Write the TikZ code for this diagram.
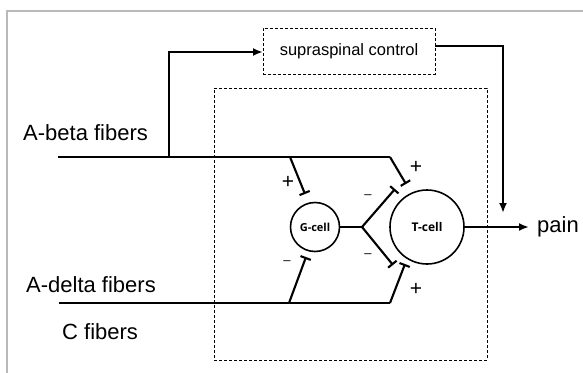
\documentclass[tikz,border=0pt]{standalone}
\usepackage{fontspec}
\setmainfont{Liberation Sans}
\newfontfamily\cellfont{Open Sans}
\usetikzlibrary{arrows.meta}

\tikzset{
  x=1pt, y=-1pt,
  fiber/.style={line width=2.1pt},
  inhib/.style={fiber, -{Bar[width=11pt,line width=2.1pt]}},
  excite/.style={fiber, -{Latex[length=10pt,width=8pt]}},
  cell/.style={circle, draw, line width=1.6pt, inner sep=0pt, font=\cellfont},
  zone/.style={draw, dashed, dash pattern=on 3pt off 2pt, line width=1pt, inner sep=0pt},
  lbl/.style={anchor=west, inner sep=0pt, font=\fontsize{22}{24}\selectfont},
  sign/.style={inner sep=0pt, font=\fontsize{21}{23}\selectfont},
  minus/.style={inner sep=0pt, font=\fontsize{13}{15}\selectfont},
}

\begin{document}
\begin{tikzpicture}
\useasboundingbox (0,0) rectangle (583,372);
\clip (0,0) rectangle (583,372);
\fill[white] (0,0) rectangle (583,372);
% outer gray frame
\draw[gray!55, line width=1.5pt] (7,400) -- (7,11) -- (600,11);

% spinal cord region and supraspinal control
\node[zone, minimum width=273pt, minimum height=272pt] (spinal) at (350.5,224) {};
\node[zone, minimum width=172pt, minimum height=46pt,
      font=\fontsize{16.5}{18}\selectfont] (supra) at (349,51) {supraspinal control};

% cells
\node[cell, minimum size=49pt, font=\cellfont\bfseries\fontsize{11}{13}\selectfont] (gcell) at (315,227) {G-cell};
\node[cell, minimum size=74pt, font=\cellfont\bfseries\fontsize{12}{14}\selectfont] (tcell) at (427,227) {T-cell};

% labels
\node[lbl] (abeta) at (23,133) {A-beta fibers};
\node[lbl] (adelta) at (26,285) {A-delta fibers};
\node[lbl] (cfib) at (62,332) {C fibers};
\node[lbl] (pain) at (537,227) {pain};

% junction points
\coordinate (abin) at (58,157);
\coordinate (abk) at (169,157);
\coordinate (abg) at (290,157);
\coordinate (abt) at (390,157);
\coordinate (abgend) at (305,194);
\coordinate (abtend) at (406,184);
\coordinate (adin) at (59,303);
\coordinate (adg) at (289,303);
\coordinate (adt) at (390,303);
\coordinate (adgend) at (306,257);
\coordinate (adtend) at (405,264);
\coordinate (fork) at (362,227);
\coordinate (forkup) at (395,189);
\coordinate (forkdn) at (393,265);
\coordinate (supout) at (435,46);
\coordinate (supcorner) at (503,46);
\coordinate (supend) at (503,213);
\coordinate (supin) at (263,52);
\coordinate (painend) at (529,227);

% A-beta fibers
\draw[fiber] (abin) -- (abt);
\draw[inhib] (abt) -- (abtend);
\draw[inhib] (abg) -- (abgend);
\draw[excite] (abk) |- (supin);

% A-delta / C fibers
\draw[fiber] (adin) -- (adt);
\draw[inhib] (adt) -- (adtend);
\draw[inhib] (adg) -- (adgend);

% G-cell output
\draw[fiber] (gcell.east) -- (fork);
\draw[inhib] (fork) -- (forkup);
\draw[inhib] (fork) -- (forkdn);

% descending control and output
\draw[excite] (supout) -- (supcorner) -- (supend);
\draw[excite] (tcell.east) -- (painend);

% signs
\node[sign] (s1) at (288,182) {+};
\node[sign] (s2) at (416,167) {+};
\node[minus] (s3) at (368,197) {\textendash};
\node[minus] (s4) at (368,256) {\textendash};
\node[minus] (s5) at (287,263) {\textendash};
\node[sign] (s6) at (416,289) {+};
\end{tikzpicture}
\end{document}
